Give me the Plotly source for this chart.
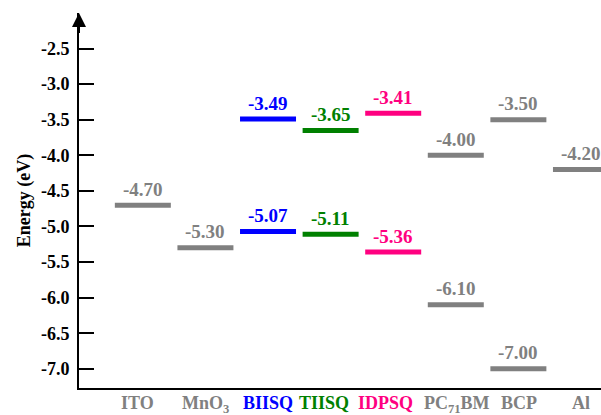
import plotly.graph_objects as go

# Energy-level diagram of an organic solar cell stack
materials = ["ITO", "MnO<sub>3</sub>", "BIISQ", "TIISQ", "IDPSQ",
             "PC<sub>71</sub>BM", "BCP", "Al"]
upper_levels = [None, None, -3.49, -3.65, -3.41, -4.00, -3.50, -4.20]
lower_levels = [-4.70, -5.30, -5.07, -5.11, -5.36, -6.10, -7.00, None]
colors = ["#808080", "#808080", "#0000FF", "#008000", "#FF0080",
          "#808080", "#808080", "#808080"]

ytick_vals = [-2.5, -3.0, -3.5, -4.0, -4.5, -5.0, -5.5, -6.0, -6.5, -7.0]
ytick_text = ["-2.5", "-3.0", "-3.5", "-4.0", "-4.5", "-5.0", "-5.5",
              "-6.0", "-6.5", "-7.0"]

FONT = "Liberation Serif"
# small horizontal nudges (px) so neighbouring names do not collide
name_nudge = [-5, 0, 0, -7, -8, 1, 1, 0]

fig = go.Figure()
annotations = []
for i, (name, up, lo, c) in enumerate(zip(materials, upper_levels,
                                          lower_levels, colors)):
    levels = [v for v in (up, lo) if v is not None]
    fig.add_trace(go.Scatter(
        x=[i] * len(levels), y=levels, mode="markers",
        marker=dict(symbol="line-ew", size=40,
                    line=dict(width=5, color=c)),
        showlegend=False, hoverinfo="y", cliponaxis=False,
    ))
    for v in levels:
        annotations.append(dict(
            x=i, y=v, text=f"{v:.2f}", showarrow=False,
            yanchor="middle", yshift=16,
            font=dict(family=FONT, size=19, color=c, weight="bold"),
        ))
    # material name under the axis
    annotations.append(dict(
        x=i, y=0, xref="x", yref="paper", text=name, showarrow=False,
        xanchor="center", yanchor="top", yshift=-3, xshift=name_nudge[i],
        font=dict(family=FONT, size=18, color=c, weight="bold"),
    ))

# arrow head on top of the energy axis
annotations.append(dict(
    x=0, y=1, xref="paper", yref="paper", ax=0, ay=30,
    axref="pixel", ayref="pixel", showarrow=True,
    arrowhead=2, arrowsize=1.4, arrowwidth=2, arrowcolor="black", text=" ",
))

fig.update_layout(
    width=601, height=415,
    margin=dict(l=79, r=0, t=13, b=27),
    plot_bgcolor="white", paper_bgcolor="white",
    annotations=annotations,
    xaxis=dict(
        range=[-1.02, 7.32], showgrid=False, zeroline=False,
        showline=True, linecolor="black", linewidth=2,
        tickvals=list(range(len(materials))), showticklabels=False,
        ticks="", automargin=False,
    ),
    yaxis=dict(
        range=[-7.27, -2.0], showgrid=False, zeroline=False,
        showline=True, linecolor="black", linewidth=2, automargin=False,
        tickvals=ytick_vals, ticktext=ytick_text,
        ticks="inside", ticklen=15, tickwidth=2, tickcolor="black",
        ticklabelstandoff=4,
        tickfont=dict(family=FONT, size=18, color="black", weight="bold"),
        title=dict(text="Energy (eV)", standoff=6,
                   font=dict(family=FONT, size=18, color="black",
                             weight="bold")),
    ),
)

fig.write_html("out.html")
